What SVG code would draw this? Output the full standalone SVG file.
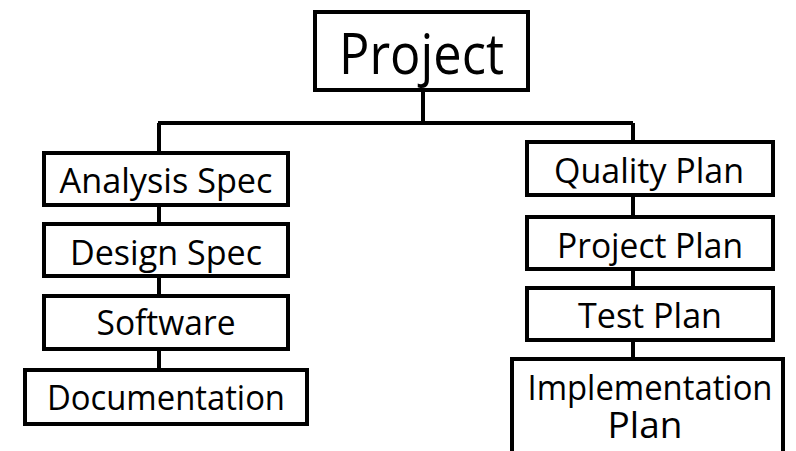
<svg xmlns="http://www.w3.org/2000/svg" width="796" height="451" viewBox="0 0 796 451">
<style>
.box{fill:#fff;stroke:#000;stroke-width:4}
.conn{fill:none;stroke:#000;stroke-width:4}
text{font-family:"Open Sans","Noto Sans",sans-serif;font-size:35px;fill:#000;text-anchor:middle}
.big{font-size:56px}
</style>
<rect width="796" height="451" fill="#fff"/>
<g id="connectors">
<path class="conn" d="M423 92V123M158 123H633M159 123V151M159 207V222M159 278V294M159 351V368M633 123V140M633 197V215M633 271V286M633 342V357"/>
</g>
<g id="project">
<rect class="box" x="315" y="12" width="213" height="78"/>
<text class="big" x="421.5" y="74" textLength="165" lengthAdjust="spacingAndGlyphs">Project</text>
</g>
<g id="analysis-spec">
<rect class="box" x="44" y="153" width="244" height="52"/>
<text x="166" y="193" textLength="213" lengthAdjust="spacingAndGlyphs">Analysis Spec</text>
</g>
<g id="design-spec">
<rect class="box" x="44" y="224" width="244" height="52"/>
<text x="166" y="265" textLength="192" lengthAdjust="spacingAndGlyphs">Design Spec</text>
</g>
<g id="software">
<rect class="box" x="44" y="296" width="244" height="53"/>
<text x="166" y="335" textLength="139" lengthAdjust="spacingAndGlyphs">Software</text>
</g>
<g id="documentation">
<rect class="box" x="25" y="370" width="282" height="54"/>
<text x="166" y="410" textLength="238" lengthAdjust="spacingAndGlyphs">Documentation</text>
</g>
<g id="quality-plan">
<rect class="box" x="527" y="142" width="246" height="53"/>
<text x="649" y="183" textLength="190" lengthAdjust="spacingAndGlyphs">Quality Plan</text>
</g>
<g id="project-plan">
<rect class="box" x="527" y="217" width="246" height="52"/>
<text x="650" y="258" textLength="186" lengthAdjust="spacingAndGlyphs">Project Plan</text>
</g>
<g id="test-plan">
<rect class="box" x="527" y="288" width="246" height="52"/>
<text x="650" y="328" textLength="144" lengthAdjust="spacingAndGlyphs">Test Plan</text>
</g>
<g id="implementation-plan">
<rect class="box" x="512" y="359" width="271" height="100"/>
<text><tspan x="650" y="400" textLength="245" lengthAdjust="spacingAndGlyphs">Implementation</tspan><tspan x="645" y="438" style="font-size:37px">Plan</tspan></text>
</g>
</svg>
